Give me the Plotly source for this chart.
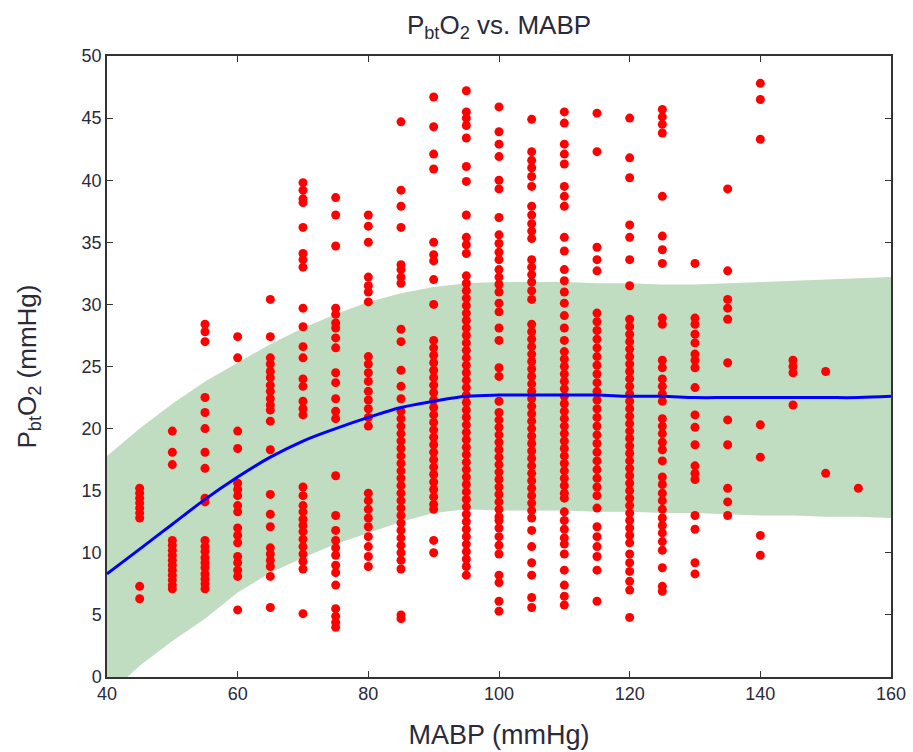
import plotly.graph_objects as go

# ---- data ----
mabp_levels = [45, 50, 55, 60, 65, 70, 75, 80, 85, 90, 95, 100, 105, 110,
               115, 120, 125, 130, 135, 140, 145, 150, 155]

y45 = [15.2, 14.8, 14.4, 14.0, 13.6, 13.2, 12.8, 7.3, 6.3]
y50 = [19.8, 18.1, 17.1, 11.0, 10.6, 10.2, 9.8, 9.4, 9.0, 8.6, 8.2, 7.8, 7.4, 7.1]
y55 = [28.4, 27.8, 27.0, 22.5, 21.3, 20.0, 18.1, 16.8, 14.4, 14.1, 11.0, 10.5, 10.1,
       9.6, 9.2, 8.8, 8.3, 7.9, 7.5, 7.1]
y60 = [27.4, 25.7, 19.8, 18.4, 15.6, 15.1, 14.6, 13.8, 13.3, 12.0, 11.4, 10.8, 9.7,
       9.2, 8.6, 8.1, 5.4]
y65 = [30.4, 27.4, 25.7, 25.2, 24.6, 24.1, 23.5, 23.0, 22.4, 21.9, 21.5, 20.6, 18.3,
       14.7, 13.1, 12.1, 10.4, 9.9, 9.4, 8.9, 8.1, 5.6]
y70 = [39.8, 39.2, 38.5, 38.2, 36.2, 34.1, 33.6, 33.0, 29.7, 28.2, 26.6, 25.7, 24.0,
       23.4, 22.2, 21.6, 21.1, 15.3, 14.6, 13.8, 13.3, 12.7, 12.2, 11.7, 11.1, 10.5,
       9.9, 9.3, 8.7, 5.1]
y75 = [38.6, 37.2, 34.7, 29.7, 29.2, 28.5, 28.1, 27.3, 26.5, 24.5, 23.7, 22.4, 21.4,
       20.8, 16.2, 13.0, 11.8, 11.0, 10.4, 9.8, 9.0, 8.4, 7.4, 5.5, 4.9, 4.4, 4.0]
y80 = [37.2, 36.3, 35.0, 32.2, 31.5, 31.0, 30.2, 25.8, 25.2, 24.5, 23.8, 23.0, 22.3,
       21.6, 20.9, 20.2, 14.8, 14.2, 13.5, 12.8, 12.1, 11.3, 10.5, 9.7, 8.9]
y85 = [44.7, 39.2, 37.9, 36.2, 33.2, 32.8, 32.2, 31.7, 28.0, 27.0, 24.7, 23.4, 22.4,
       21.4, 20.8, 20.2, 19.6, 19.0, 18.4, 17.8, 17.2, 16.6, 16.0, 15.4, 14.8, 14.2,
       13.6, 13.0, 12.4, 11.8, 11.2, 10.6, 10.0, 9.4, 8.7, 5.0, 4.7]
y90 = [46.7, 44.3, 42.1, 40.9, 35.0, 34.0, 33.5, 32.0, 30.0, 27.1, 26.5, 25.9, 25.3,
       24.7, 24.1, 23.5, 22.9, 22.3, 21.7, 21.1, 20.5, 19.9, 19.3, 18.7, 18.1, 17.5,
       16.9, 16.3, 15.7, 15.1, 14.5, 13.9, 13.5, 11.0, 10.0]
y95 = [47.2, 45.5, 45.0, 44.4, 43.4, 41.1, 39.9, 37.2, 35.4, 34.8, 34.1, 32.3, 31.7,
       31.1, 30.5, 29.9, 29.3, 28.7, 28.1, 27.5, 26.9, 26.3, 25.7, 25.1, 24.5, 23.9,
       23.3, 22.7, 22.1, 21.5, 20.9, 20.3, 19.7, 19.1, 18.5, 17.9, 17.3, 16.7, 16.1,
       15.5, 14.9, 14.3, 13.7, 13.1, 12.5, 11.9, 11.3, 10.7, 10.1, 9.5, 8.9, 8.2]
y100 = [45.9, 43.9, 42.9, 41.9, 40.0, 39.3, 37.0, 35.6, 34.9, 34.2, 33.6, 32.8, 32.2,
        31.6, 31.0, 30.1, 29.4, 28.1, 27.1, 24.9, 24.2, 22.2, 21.3, 20.7, 20.1, 19.5,
        18.9, 18.3, 17.7, 17.1, 16.5, 15.9, 15.3, 14.7, 14.1, 13.5, 12.9, 12.6, 12.0,
        11.3, 10.6, 9.9, 8.2, 7.6, 6.1, 5.3]
y105 = [44.9, 42.3, 41.6, 41.0, 40.3, 39.5, 37.9, 37.2, 36.5, 35.9, 35.3, 33.6, 33.0,
        32.4, 31.8, 31.1, 30.4, 28.4, 27.8, 27.2, 26.6, 26.0, 25.4, 24.8, 24.2, 23.6,
        23.0, 22.4, 21.8, 21.2, 20.6, 20.0, 19.4, 18.8, 18.2, 17.6, 17.0, 16.4, 15.8,
        15.2, 14.6, 14.0, 13.4, 12.8, 11.8, 10.5, 9.2, 8.2, 6.4, 5.6]
y110 = [45.5, 44.6, 42.9, 42.1, 41.3, 39.5, 38.7, 37.9, 35.4, 34.3, 32.8, 31.9, 31.0,
        30.1, 29.1, 28.1, 27.1, 26.2, 25.6, 25.0, 24.4, 23.8, 23.2, 22.6, 22.0, 21.4,
        20.8, 20.2, 19.6, 19.0, 18.4, 17.8, 17.2, 16.6, 16.0, 15.4, 14.8, 14.4, 13.3,
        12.6, 11.9, 11.2, 10.7, 9.9, 8.6, 7.4, 6.5, 5.8]
y115 = [45.4, 42.3, 34.6, 33.6, 32.7, 29.3, 28.6, 27.9, 27.2, 26.5, 25.8, 25.1, 24.4,
        23.7, 23.0, 22.3, 21.6, 20.9, 20.2, 19.5, 18.8, 18.1, 17.4, 16.7, 16.0, 15.3,
        14.6, 13.6, 12.1, 11.3, 10.5, 9.7, 8.6, 6.1]
y120 = [45.0, 41.8, 40.2, 36.4, 35.4, 33.6, 31.5, 28.8, 28.2, 27.6, 27.0, 26.4, 25.8,
        25.2, 24.6, 24.0, 23.4, 22.8, 22.2, 21.6, 21.0, 20.4, 19.8, 19.2, 18.6, 18.0,
        17.4, 16.8, 16.2, 15.6, 15.0, 14.4, 13.8, 13.2, 12.6, 12.0, 11.4, 10.8, 9.9,
        9.2, 8.5, 7.7, 7.0, 4.8]
y125 = [45.7, 45.1, 44.5, 43.8, 38.7, 35.5, 34.4, 33.3, 28.9, 28.4, 25.5, 24.9, 24.0,
        23.4, 22.8, 22.2, 20.8, 20.2, 19.6, 18.9, 18.3, 17.4, 16.1, 15.5, 14.8, 14.2,
        13.5, 12.8, 12.2, 11.6, 10.9, 10.2, 8.8, 7.3, 6.9]
y130 = [33.3, 28.9, 28.4, 27.6, 26.9, 26.0, 25.5, 24.9, 23.3, 21.1, 20.1, 18.7, 17.0,
        16.4, 15.9, 13.0, 11.9, 9.2, 8.3]
y135 = [39.3, 32.7, 30.4, 29.7, 28.8, 25.3, 20.7, 18.7, 15.2, 14.1, 13.0]
y140 = [47.8, 46.5, 43.3, 20.3, 17.7, 11.4, 9.8]
y145 = [25.5, 25.0, 24.5, 21.9]
y150 = [24.6, 16.4]
y155 = [15.2]

pbto2_columns = [y45, y50, y55, y60, y65, y70, y75, y80, y85, y90, y95, y100, y105,
                 y110, y115, y120, y125, y130, y135, y140, y145, y150, y155]

fit_x = [40, 45, 50, 55, 60, 65, 70, 75, 80, 85, 90, 95, 100, 105, 110, 115, 120,
         125, 130, 135, 140, 145, 150, 155, 160]
fit_y = [8.3, 10.3, 12.3, 14.3, 16.1, 17.7, 19.0, 20.0, 20.9, 21.7, 22.2, 22.6, 22.7,
         22.7, 22.7, 22.7, 22.6, 22.6, 22.5, 22.5, 22.5, 22.5, 22.5, 22.5, 22.6]
band_upper = [17.8, 20.0, 22.0, 23.8, 25.3, 26.8, 28.1, 29.2, 30.2, 30.9, 31.4, 31.7,
              31.8, 31.8, 31.8, 31.7, 31.7, 31.6, 31.6, 31.7, 31.8, 31.9, 32.0, 32.1, 32.2]
band_lower = [-1.5, 0.9, 2.9, 4.7, 6.8, 8.4, 9.6, 10.7, 11.6, 12.5, 13.2, 13.5, 13.4,
              13.4, 13.4, 13.3, 13.3, 13.2, 13.2, 13.1, 13.0, 13.0, 12.9, 12.9, 12.8]

# ---- build scatter arrays ----
sx, sy = [], []
for lvl, col in zip(mabp_levels, pbto2_columns):
    sx.extend([lvl] * len(col))
    sy.extend(col)

text_color = "#2a2a3a"
font_family = "Liberation Sans, Arial, sans-serif"

fig = go.Figure()
fig.add_trace(go.Scatter(x=fit_x, y=band_lower, mode="lines",
                         line=dict(width=0, color="rgba(0,0,0,0)"),
                         showlegend=False, hoverinfo="skip"))
fig.add_trace(go.Scatter(x=fit_x, y=band_upper, mode="lines", fill="tonexty",
                         fillcolor="#c0dcc1", line=dict(width=0, color="rgba(0,0,0,0)"),
                         showlegend=False, hoverinfo="skip"))
fig.add_trace(go.Scatter(x=sx, y=sy, mode="markers",
                         marker=dict(color="#ff0000", size=9, line=dict(width=0)),
                         showlegend=False))
fig.add_trace(go.Scatter(x=fit_x, y=fit_y, mode="lines", line_shape="spline",
                         line=dict(color="#0000ff", width=3), showlegend=False))

axis_common = dict(showline=True, linecolor="#333333", linewidth=1.5, mirror="ticks",
                   ticks="inside", ticklen=6, tickcolor="#333333", showgrid=False,
                   zeroline=False, layer="below traces", automargin=False,
                   tickfont=dict(family=font_family, size=18, color=text_color))

fig.update_xaxes(range=[40, 160], tickvals=[40, 60, 80, 100, 120, 140, 160],
                 title=dict(text="MABP (mmHg)", standoff=22,
                            font=dict(family=font_family, size=27, color=text_color)),
                 **axis_common)
fig.update_yaxes(range=[0, 50], tickvals=list(range(0, 51, 5)),
                 title=dict(text="P<sub>bt</sub>O<sub>2</sub> (mmHg)", standoff=38,
                            font=dict(family=font_family, size=26, color=text_color)),
                 **axis_common)

fig.update_layout(
    width=913, height=752,
    margin=dict(l=107, r=22, t=56, b=75),
    paper_bgcolor="white", plot_bgcolor="white",
    title=dict(text="P<sub>bt</sub>O<sub>2</sub> vs. MABP", x=0.5, xref="paper",
               xanchor="center", y=0.967, yanchor="middle",
               font=dict(family=font_family, size=26, color=text_color)),
)

fig.write_html("out.html")
